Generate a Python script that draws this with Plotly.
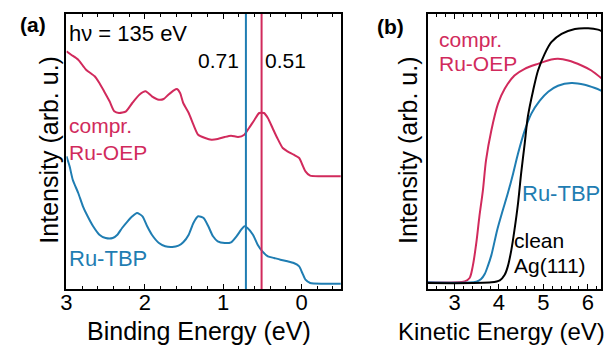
import plotly.graph_objects as go

# the page body adds an 8 px margin; the figure is sized so that it fills the 612x345 window
PAGE_W, PAGE_H, OFF = 612, 345, 8
W, H = PAGE_W - OFF, PAGE_H - OFF

# ---------- data: panel (a) valence band ----------
oep_be = [3.00, 2.94, 2.85, 2.75, 2.64, 2.58, 2.52, 2.45, 2.39, 2.33, 2.24, 2.16, 2.07, 1.99,
          1.91, 1.82, 1.76, 1.70, 1.63, 1.59, 1.55, 1.51, 1.44, 1.38, 1.32, 1.23, 1.15, 1.07,
          0.98, 0.90, 0.81, 0.73, 0.67, 0.60, 0.54, 0.48, 0.43, 0.37, 0.31, 0.24, 0.18, 0.10,
          0.03, -0.01, -0.05, -0.11, -0.24, -0.51]
oep_int = [237.7, 234.3, 229.3, 219.3, 212.7, 206.0, 197.7, 187.7, 177.7, 176.0, 177.7, 186.0,
           194.3, 197.7, 192.7, 189.3, 190.0, 194.3, 198.7, 200.0, 196.0, 186.0, 176.0, 164.3,
           154.3, 151.0, 149.3, 150.0, 152.0, 153.3, 152.0, 154.3, 161.0, 169.3, 176.0, 176.0,
           171.0, 161.0, 151.0, 141.0, 137.7, 134.3, 131.0, 124.3, 117.7, 113.3, 112.7, 112.7]

tbp_be = [3.00, 2.96, 2.92, 2.85, 2.79, 2.73, 2.66, 2.58, 2.50, 2.41, 2.35, 2.29, 2.22, 2.16,
          2.10, 2.03, 1.97, 1.91, 1.82, 1.74, 1.65, 1.57, 1.51, 1.44, 1.38, 1.32, 1.25, 1.19,
          1.13, 1.07, 0.98, 0.90, 0.83, 0.77, 0.73, 0.69, 0.62, 0.56, 0.50, 0.43, 0.35, 0.27,
          0.18, 0.10, 0.03, -0.01, -0.05, -0.11, -0.28, -0.51]
tbp_int = [132.7, 122.7, 109.3, 96.0, 82.7, 72.7, 62.7, 54.3, 51.0, 51.0, 54.3, 61.0, 67.7,
           72.7, 76.0, 72.7, 62.7, 54.3, 46.0, 42.7, 42.0, 43.3, 46.7, 54.3, 66.0, 72.7, 71.0,
           62.7, 52.7, 47.7, 46.0, 46.7, 52.7, 59.3, 62.7, 61.0, 54.3, 44.3, 37.7, 32.7, 31.0,
           29.3, 27.7, 26.0, 22.7, 16.0, 9.3, 6.0, 5.3, 5.3]

marker_be = [0.71, 0.51]
marker_labels = ["0.71", "0.51"]

# ---------- data: panel (b) secondary electron cutoff ----------
oep_ke = [2.38, 3.23, 3.34, 3.41, 3.49, 3.56, 3.64, 3.71, 3.83, 3.98, 4.13, 4.35, 4.58, 4.88,
          5.18, 5.33, 5.56, 5.86, 6.08, 6.32]
oep_cut = [6.7, 7.7, 11.0, 22.7, 46.0, 72.7, 99.3, 129.3, 159.3, 186.0, 201.0, 214.3, 221.0,
           226.0, 230.3, 231.0, 229.3, 224.3, 219.3, 211.0]

tbp_ke = [2.38, 3.49, 3.60, 3.68, 3.75, 3.83, 3.96, 4.08, 4.20, 4.32, 4.43, 4.58, 4.73, 4.92,
          5.11, 5.33, 5.63, 5.93, 6.16, 6.32]
tbp_cut = [6.7, 7.3, 10.0, 15.0, 23.0, 34.0, 59.0, 78.0, 96.0, 116.0, 136.0, 159.0, 176.0,
           189.0, 198.0, 204.0, 206.7, 205.0, 201.7, 198.7]

ag_ke = [2.38, 3.83, 4.02, 4.13, 4.20, 4.28, 4.35, 4.43, 4.50, 4.58, 4.65, 4.77, 4.88, 5.03,
         5.18, 5.41, 5.71, 6.01, 6.23, 6.32]
ag_cut = [6.0, 6.7, 8.7, 14.3, 22.7, 39.3, 59.3, 86.0, 116.0, 146.0, 172.7, 199.3, 219.3,
          236.0, 247.7, 256.0, 261.0, 261.7, 260.3, 258.7]

RED = "#d12a5c"
BLUE = "#1f7db2"
BLACK = "#000000"
FONT = "Liberation Sans"


def px(x):
    return (x - OFF) / W


def py(y):
    return 1 - (y - OFF) / H


fig = go.Figure()

fig.add_trace(go.Scatter(x=oep_be, y=oep_int, mode="lines", line=dict(color=RED, width=2, shape="spline", smoothing=0.6),
                         xaxis="x", yaxis="y", showlegend=False))
fig.add_trace(go.Scatter(x=tbp_be, y=tbp_int, mode="lines", line=dict(color=BLUE, width=2, shape="spline", smoothing=0.6),
                         xaxis="x", yaxis="y", showlegend=False))

fig.add_trace(go.Scatter(x=oep_ke, y=oep_cut, mode="lines", line=dict(color=RED, width=2, shape="spline", smoothing=0.8),
                         xaxis="x2", yaxis="y2", showlegend=False))
fig.add_trace(go.Scatter(x=tbp_ke, y=tbp_cut, mode="lines", line=dict(color=BLUE, width=2, shape="spline", smoothing=0.8),
                         xaxis="x2", yaxis="y2", showlegend=False))
fig.add_trace(go.Scatter(x=ag_ke, y=ag_cut, mode="lines", line=dict(color=BLACK, width=2, shape="spline", smoothing=0.8),
                         xaxis="x2", yaxis="y2", showlegend=False))

for xv, col in zip(marker_be, [BLUE, RED]):
    fig.add_shape(type="line", xref="x", yref="y domain", x0=xv, x1=xv, y0=0, y1=1,
                  line=dict(color=col, width=2))

ydom = [py(289), py(14)]
xaxis_common = dict(showline=True, linecolor="black", linewidth=1.5, mirror="allticks",
                    ticks="inside", ticklen=5, tickwidth=1, tickcolor="black",
                    showgrid=False, zeroline=False, ticklabelstandoff=-7,
                    tickfont=dict(family=FONT, size=22, color="black"),
                    minor=dict(ticks="inside", ticklen=3, tickcolor="black", dtick=0.2))
yaxis_common = dict(showline=True, linecolor="black", linewidth=1.5, mirror=True,
                    ticks="", showticklabels=False, showgrid=False, zeroline=False)

fig.update_layout(
    width=W, height=H,
    margin=dict(l=0, r=0, t=0, b=0),
    paper_bgcolor="white", plot_bgcolor="white",
    xaxis=dict(domain=[px(61), px(338)], range=[3, -0.5], dtick=1, anchor="y", **xaxis_common),
    yaxis=dict(domain=ydom, range=[0, 275], anchor="x", **yaxis_common),
    xaxis2=dict(domain=[px(426), px(601)], range=[2.4, 6.3], dtick=1, anchor="y2", **xaxis_common),
    yaxis2=dict(domain=ydom, range=[0, 276], anchor="x2", **yaxis_common),
)

ann = []


def add_text(text, x, y, color="black", size=21, xanchor="left", angle=0, bold=False):
    t = f"<b>{text}</b>" if bold else text
    ann.append(dict(text=t, x=px(x), y=py(y), xref="paper", yref="paper", showarrow=False,
                    xanchor=xanchor, yanchor="middle", textangle=angle, borderpad=0,
                    font=dict(family=FONT, size=size, color=color)))


# panel labels
add_text("(a)", 27, 25, size=21, xanchor="center", bold=True)
add_text("(b)", 388, 27, size=21, xanchor="center", bold=True)
# axis titles
add_text("Binding Energy (eV)", 195, 331, size=25, xanchor="center")
add_text("Kinetic Energy (eV)", 500, 331, size=24, xanchor="center")
add_text("Intensity (arb. u.)", 43, 150, size=25, xanchor="center", angle=-90)
add_text("Intensity (arb. u.)", 406, 150, size=25, xanchor="center", angle=-90)
# panel (a) texts
add_text("hν = 135 eV", 63, 33, size=22)
add_text(marker_labels[0], 215, 60, xanchor="center")
add_text(marker_labels[1], 282, 60, xanchor="center")
add_text("compr.", 63, 125, color=RED)
add_text("Ru-OEP", 63, 152, color=RED)
add_text("Ru-TBP", 63, 258, color=BLUE, size=22)
# panel (b) texts
add_text("compr.", 436, 40, color=RED)
add_text("Ru-OEP", 436, 64, color=RED)
add_text("Ru-TBP", 520, 193, color=BLUE, size=22)
add_text("clean", 512, 240)
add_text("Ag(111)", 512, 265)

fig.update_layout(annotations=ann)

fig.write_html("out.html")
